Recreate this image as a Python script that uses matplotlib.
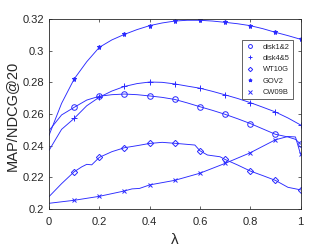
import numpy as np
import matplotlib
matplotlib.use('Agg')
import matplotlib.pyplot as plt

# lambda values (extra points where the curve bends)
lam_gov2 = [0, .05, .1, .15, .2, .25, .3, .35, .4, .45, .5, .55, .6, .65, .7,
            .75, .8, .85, .9, .95, 1.0]
gov2 = [.2465, .2667, .2821, .2930, .3021, .3068, .3103, .3133, .3158, .3175,
        .3187, .3192, .3192, .3187, .3179, .3170, .3158, .3139, .3116, .3095,
        .3072]

lam_disk12 = [0, .05, .1, .15, .2, .25, .3, .35, .4, .45, .5, .55, .6, .65,
              .7, .75, .8, .85, .9, .95, .98, 1.0]
disk12 = [.2495, .2594, .2642, .2688, .2712, .2722, .2726, .2722, .2714,
          .2705, .2692, .2670, .2646, .2623, .2598, .2570, .2540, .2506,
          .2472, .2455, .2440, .2410]

lam_disk45 = [0, .05, .1, .15, .2, .25, .3, .35, .4, .45, .5, .55, .6, .65,
              .7, .75, .8, .85, .9, .95, 1.0]
disk45 = [.2370, .2503, .2572, .2652, .2706, .2745, .2774, .2792, .2802,
          .2800, .2790, .2776, .2763, .2743, .2721, .2698, .2672, .2643,
          .2613, .2575, .2531]

lam_wt10g = [0, .05, .1, .13, .15, .17, .2, .25, .3, .35, .4, .45, .5, .58,
             .6, .63, .68, .7, .75, .8, .85, .9, .95, 1.0]
wt10g = [.2078, .2160, .2235, .2266, .2282, .2279, .2326, .2362, .2387,
         .2400, .2414, .2421, .2415, .2404, .2368, .2341, .2330, .2313,
         .2278, .2240, .2211, .2181, .2137, .2121]

lam_cw09b = [0, .1, .2, .3, .33, .36, .4, .5, .6, .7, .8, .9, .95, .98, 1.0]
cw09b = [.2036, .2055, .2080, .2114, .2127, .2130, .2152, .2181, .2226,
         .2288, .2355, .2437, .2458, .2455, .2347]

names = ['disk1&2', 'disk4&5', 'WT10G', 'GOV2', 'CW09B']
series = [(lam_disk12, disk12, 'o', 4.0),
          (lam_disk45, disk45, '+', 4.5),
          (lam_wt10g, wt10g, 'D', 3.2),
          (lam_gov2, gov2, '*', 3.6),
          (lam_cw09b, cw09b, 'x', 3.5)]

xticks = [0, 0.2, 0.4, 0.6, 0.8, 1]
yticks = [0.2, 0.22, 0.24, 0.26, 0.28, 0.3, 0.32]

plt.rcParams['font.family'] = ['Liberation Sans', 'DejaVu Sans']
ax_col = '#262626'
line_col = '#2a2aff'

fig = plt.figure(figsize=(3.32, 2.49), dpi=100)
ax = fig.add_axes([49/332., 1-209/249., 251.5/332., 190/249.])

for (lam, vals, mk, ms), name in zip(series, names):
    lam = np.array(lam)
    vals = np.array(vals)
    ax.plot(lam, vals, '-', color=line_col, lw=0.65)
    # markers only every 0.1, starting at 0.1
    sel = np.isclose((lam*10) % 1, 0) | np.isclose((lam*10) % 1, 1)
    sel &= lam > 0.05
    ax.plot(lam[sel], vals[sel], mk, ls='none', color=line_col, ms=ms,
            mfc='none' if mk in ('o', 'D') else line_col, mew=0.7, label=name)

ax.set_xlim(0, 1)
ax.set_ylim(0.2, 0.32)
ax.set_xticks(xticks)
ax.set_xticklabels(['0', '0.2', '0.4', '0.6', '0.8', '1'])
ax.set_yticks(yticks)
ax.set_yticklabels(['0.2', '0.22', '0.24', '0.26', '0.28', '0.3', '0.32'])
ax.tick_params(direction='in', length=2.5, width=0.5, top=True, right=True,
               labelsize=8, colors=ax_col)
ax.tick_params(axis='x', pad=5.5)
for sp in ax.spines.values():
    sp.set_linewidth(0.6)
    sp.set_color(ax_col)

ax.set_ylabel('MAP/NDCG@20', fontsize=10.5, color=ax_col)
ax.yaxis.set_label_coords(-0.121, 0.492)
ax.set_xlabel('λ', fontsize=11, color=ax_col, va='top')
ax.xaxis.set_label_coords(0.501, -0.125)

leg = ax.legend(loc='upper right', bbox_to_anchor=(0.97, 0.887),
                borderaxespad=0, fontsize=5.4, markerscale=0.7,
                fancybox=False, framealpha=1, edgecolor=ax_col,
                borderpad=0.4, handlelength=1.2, handletextpad=1.2,
                labelspacing=0.55)
leg.get_frame().set_linewidth(0.5)
for t in leg.get_texts():
    t.set_color(ax_col)

fig.savefig('out.png', dpi=100)
